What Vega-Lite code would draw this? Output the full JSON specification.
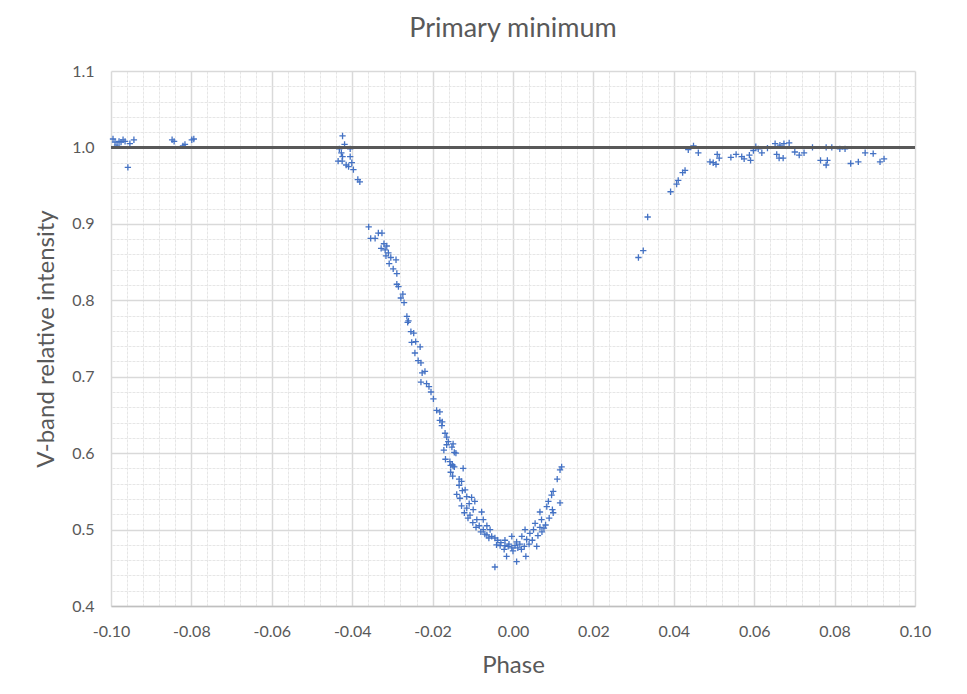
{
  "$schema": "https://vega.github.io/schema/vega-lite/v6.json",
  "width": 804,
  "height": 535,
  "autosize": "none",
  "padding": {"left": 111, "top": 71, "right": 52, "bottom": 88},
  "background": "white",
  "title": {"text": "Primary minimum", "font": "Lato", "fontSize": 27, "fontWeight": "normal", "color": "#595959", "offset": 20},
  "config": {
    "view": {"stroke": null},
    "axis": {"labelFont": "Lato", "labelFontSize": 16, "labelColor": "#595959", "titleFont": "Lato", "titleFontSize": 24, "titleFontWeight": "normal", "titleColor": "#595959", "ticks": false}
  },
  "data": {"values": [
    {"phase": -0.0995, "intensity": 1.011}, {"phase": -0.0990, "intensity": 1.007}, {"phase": -0.0985, "intensity": 1.003}, {"phase": -0.0980, "intensity": 1.008}, {"phase": -0.0975, "intensity": 1.007}, {"phase": -0.0970, "intensity": 1.010}, {"phase": -0.0965, "intensity": 1.008}, {"phase": -0.0958, "intensity": 0.974}, {"phase": -0.0953, "intensity": 1.005}, {"phase": -0.0943, "intensity": 1.010},
    {"phase": -0.0848, "intensity": 1.010}, {"phase": -0.0843, "intensity": 1.008}, {"phase": -0.0821, "intensity": 1.002}, {"phase": -0.0816, "intensity": 1.004}, {"phase": -0.0799, "intensity": 1.010}, {"phase": -0.0794, "intensity": 1.011},
    {"phase": -0.0424, "intensity": 1.015}, {"phase": -0.0419, "intensity": 1.004}, {"phase": -0.0432, "intensity": 0.998}, {"phase": -0.0405, "intensity": 0.998}, {"phase": -0.0427, "intensity": 0.993}, {"phase": -0.0424, "intensity": 0.988}, {"phase": -0.0405, "intensity": 0.988}, {"phase": -0.0435, "intensity": 0.982}, {"phase": -0.0425, "intensity": 0.982}, {"phase": -0.0401, "intensity": 0.980}, {"phase": -0.0415, "intensity": 0.977}, {"phase": -0.0409, "intensity": 0.975}, {"phase": -0.0397, "intensity": 0.971}, {"phase": -0.0386, "intensity": 0.958}, {"phase": -0.0381, "intensity": 0.955},
    {"phase": -0.0359, "intensity": 0.896}, {"phase": -0.0354, "intensity": 0.881}, {"phase": -0.0343, "intensity": 0.881}, {"phase": -0.0335, "intensity": 0.888}, {"phase": -0.0326, "intensity": 0.888}, {"phase": -0.0321, "intensity": 0.874}, {"phase": -0.0314, "intensity": 0.871}, {"phase": -0.0328, "intensity": 0.868}, {"phase": -0.0318, "intensity": 0.866}, {"phase": -0.0310, "intensity": 0.862}, {"phase": -0.0316, "intensity": 0.858}, {"phase": -0.0304, "intensity": 0.856}, {"phase": -0.0291, "intensity": 0.853}, {"phase": -0.0308, "intensity": 0.848}, {"phase": -0.0298, "intensity": 0.841}, {"phase": -0.0289, "intensity": 0.835},
    {"phase": -0.0289, "intensity": 0.821}, {"phase": -0.0285, "intensity": 0.818}, {"phase": -0.0274, "intensity": 0.808}, {"phase": -0.0279, "intensity": 0.803}, {"phase": -0.0271, "intensity": 0.797}, {"phase": -0.0264, "intensity": 0.779}, {"phase": -0.0260, "intensity": 0.773}, {"phase": -0.0262, "intensity": 0.771}, {"phase": -0.0254, "intensity": 0.759}, {"phase": -0.0247, "intensity": 0.757}, {"phase": -0.0252, "intensity": 0.745}, {"phase": -0.0242, "intensity": 0.746}, {"phase": -0.0231, "intensity": 0.739}, {"phase": -0.0244, "intensity": 0.731}, {"phase": -0.0236, "intensity": 0.721}, {"phase": -0.0229, "intensity": 0.718}, {"phase": -0.0219, "intensity": 0.707}, {"phase": -0.0226, "intensity": 0.705}, {"phase": -0.0229, "intensity": 0.693}, {"phase": -0.0215, "intensity": 0.691}, {"phase": -0.0209, "intensity": 0.687}, {"phase": -0.0204, "intensity": 0.680}, {"phase": -0.0198, "intensity": 0.671}, {"phase": -0.0190, "intensity": 0.656}, {"phase": -0.0182, "intensity": 0.654}, {"phase": -0.0182, "intensity": 0.643}, {"phase": -0.0176, "intensity": 0.641}, {"phase": -0.0177, "intensity": 0.636}, {"phase": -0.0169, "intensity": 0.626}, {"phase": -0.0165, "intensity": 0.621}, {"phase": -0.0161, "intensity": 0.615}, {"phase": -0.0165, "intensity": 0.611}, {"phase": -0.0152, "intensity": 0.608}, {"phase": -0.0149, "intensity": 0.612}, {"phase": -0.0146, "intensity": 0.601}, {"phase": -0.0142, "intensity": 0.600}, {"phase": -0.0157, "intensity": 0.589}, {"phase": -0.0151, "intensity": 0.585}, {"phase": -0.0155, "intensity": 0.584}, {"phase": -0.0146, "intensity": 0.582}, {"phase": -0.0149, "intensity": 0.583}, {"phase": -0.0124, "intensity": 0.580},
    {"phase": -0.0150, "intensity": 0.570}, {"phase": -0.0134, "intensity": 0.566}, {"phase": -0.0128, "intensity": 0.563}, {"phase": -0.0134, "intensity": 0.558}, {"phase": -0.0119, "intensity": 0.552}, {"phase": -0.0132, "intensity": 0.541}, {"phase": -0.0115, "intensity": 0.543}, {"phase": -0.0103, "intensity": 0.542}, {"phase": -0.0109, "intensity": 0.534}, {"phase": -0.0095, "intensity": 0.537}, {"phase": -0.0115, "intensity": 0.528}, {"phase": -0.0099, "intensity": 0.526}, {"phase": -0.0107, "intensity": 0.519}, {"phase": -0.0078, "intensity": 0.523}, {"phase": -0.0090, "intensity": 0.513}, {"phase": -0.0074, "intensity": 0.513}, {"phase": -0.0084, "intensity": 0.505}, {"phase": -0.0065, "intensity": 0.505}, {"phase": -0.0074, "intensity": 0.500}, {"phase": -0.0057, "intensity": 0.500}, {"phase": -0.0065, "intensity": 0.493}, {"phase": -0.0053, "intensity": 0.491}, {"phase": -0.0045, "intensity": 0.489}, {"phase": -0.0041, "intensity": 0.480}, {"phase": -0.0032, "intensity": 0.479}, {"phase": -0.0020, "intensity": 0.479}, {"phase": -0.0012, "intensity": 0.478}, {"phase": -0.0003, "intensity": 0.476}, {"phase": 0.0005, "intensity": 0.479}, {"phase": 0.0017, "intensity": 0.481}, {"phase": 0.0009, "intensity": 0.484}, {"phase": -0.0016, "intensity": 0.465}, {"phase": -0.0045, "intensity": 0.451}, {"phase": 0.0009, "intensity": 0.458}, {"phase": 0.0032, "intensity": 0.465}, {"phase": 0.0059, "intensity": 0.478}, {"phase": 0.0034, "intensity": 0.487}, {"phase": 0.0042, "intensity": 0.495}, {"phase": 0.0051, "intensity": 0.500}, {"phase": 0.0067, "intensity": 0.503}, {"phase": 0.0077, "intensity": 0.502}, {"phase": 0.0055, "intensity": 0.508}, {"phase": 0.0071, "intensity": 0.513}, {"phase": 0.0067, "intensity": 0.523}, {"phase": 0.0084, "intensity": 0.530}, {"phase": 0.0088, "intensity": 0.537}, {"phase": 0.0096, "intensity": 0.545}, {"phase": 0.0100, "intensity": 0.550}, {"phase": 0.0100, "intensity": 0.522}, {"phase": 0.0117, "intensity": 0.535}, {"phase": 0.0110, "intensity": 0.566}, {"phase": 0.0117, "intensity": 0.578}, {"phase": 0.0121, "intensity": 0.582}, {"phase": -0.0003, "intensity": 0.491}, {"phase": 0.0022, "intensity": 0.491}, {"phase": 0.0030, "intensity": 0.500}, {"phase": -0.0020, "intensity": 0.486},
    {"phase": -0.0030, "intensity": 0.483}, {"phase": -0.0022, "intensity": 0.474}, {"phase": 0.0000, "intensity": 0.472}, {"phase": 0.0012, "intensity": 0.476}, {"phase": -0.0010, "intensity": 0.481}, {"phase": 0.0021, "intensity": 0.474}, {"phase": 0.0028, "intensity": 0.478}, {"phase": -0.0038, "intensity": 0.486}, {"phase": -0.0060, "intensity": 0.489}, {"phase": -0.0070, "intensity": 0.494}, {"phase": -0.0080, "intensity": 0.497}, {"phase": -0.0092, "intensity": 0.503}, {"phase": -0.0100, "intensity": 0.509}, {"phase": -0.0112, "intensity": 0.515}, {"phase": -0.0121, "intensity": 0.522}, {"phase": -0.0128, "intensity": 0.531}, {"phase": -0.0140, "intensity": 0.546}, {"phase": -0.0126, "intensity": 0.551}, {"phase": -0.0155, "intensity": 0.575}, {"phase": -0.0168, "intensity": 0.592}, {"phase": -0.0172, "intensity": 0.604}, {"phase": 0.0040, "intensity": 0.481}, {"phase": 0.0048, "intensity": 0.486}, {"phase": 0.0062, "intensity": 0.492}, {"phase": 0.0072, "intensity": 0.497}, {"phase": 0.0081, "intensity": 0.506}, {"phase": 0.0090, "intensity": 0.515}, {"phase": 0.0098, "intensity": 0.526},
    {"phase": 0.0312, "intensity": 0.856}, {"phase": 0.0324, "intensity": 0.865}, {"phase": 0.0335, "intensity": 0.909}, {"phase": 0.0392, "intensity": 0.942}, {"phase": 0.0407, "intensity": 0.952}, {"phase": 0.0411, "intensity": 0.957}, {"phase": 0.0422, "intensity": 0.967}, {"phase": 0.0428, "intensity": 0.970}, {"phase": 0.0436, "intensity": 0.997}, {"phase": 0.0449, "intensity": 1.002}, {"phase": 0.0461, "intensity": 0.993}, {"phase": 0.0490, "intensity": 0.981}, {"phase": 0.0498, "intensity": 0.980}, {"phase": 0.0505, "intensity": 0.978}, {"phase": 0.0508, "intensity": 0.991}, {"phase": 0.0513, "intensity": 0.986}, {"phase": 0.0542, "intensity": 0.987}, {"phase": 0.0555, "intensity": 0.991}, {"phase": 0.0569, "intensity": 0.988}, {"phase": 0.0575, "intensity": 0.985}, {"phase": 0.0588, "intensity": 0.990}, {"phase": 0.0591, "intensity": 0.983}, {"phase": 0.0598, "intensity": 0.996}, {"phase": 0.0604, "intensity": 1.001}, {"phase": 0.0610, "intensity": 0.998}, {"phase": 0.0619, "intensity": 0.993}, {"phase": 0.0633, "intensity": 0.999}, {"phase": 0.0652, "intensity": 1.005}, {"phase": 0.0656, "intensity": 0.991}, {"phase": 0.0662, "intensity": 0.986}, {"phase": 0.0672, "intensity": 0.986}, {"phase": 0.0664, "intensity": 1.003}, {"phase": 0.0674, "intensity": 1.005}, {"phase": 0.0687, "intensity": 1.006}, {"phase": 0.0701, "intensity": 0.994}, {"phase": 0.0712, "intensity": 0.990}, {"phase": 0.0724, "intensity": 0.993}, {"phase": 0.0745, "intensity": 1.000}, {"phase": 0.0765, "intensity": 0.983}, {"phase": 0.0779, "intensity": 0.977}, {"phase": 0.0782, "intensity": 0.983}, {"phase": 0.0779, "intensity": 1.000}, {"phase": 0.0793, "intensity": 1.000}, {"phase": 0.0813, "intensity": 0.998}, {"phase": 0.0826, "intensity": 0.998}, {"phase": 0.0840, "intensity": 0.979}, {"phase": 0.0859, "intensity": 0.981}, {"phase": 0.0876, "intensity": 0.993}, {"phase": 0.0896, "intensity": 0.992}, {"phase": 0.0913, "intensity": 0.981}, {"phase": 0.0923, "intensity": 0.985}
  ]},
  "resolve": {"axis": {"x": "independent", "y": "independent"}},
  "layer": [
    {
      "mark": {"type": "point", "opacity": 0},
      "encoding": {
        "x": {"field": "phase", "type": "quantitative",
          "scale": {"domain": [-0.1, 0.1], "nice": false, "zero": false},
          "axis": {"orient": "top", "title": null, "labels": false, "domain": false, "ticks": false, "grid": true, "gridColor": "#e6e6e6", "gridWidth": 1, "gridDash": [3, 1],
            "values": [-0.096, -0.092, -0.088, -0.084, -0.076, -0.072, -0.068, -0.064, -0.056, -0.052, -0.048, -0.044, -0.036, -0.032, -0.028, -0.024, -0.016, -0.012, -0.008, -0.004, 0.004, 0.008, 0.012, 0.016, 0.024, 0.028, 0.032, 0.036, 0.044, 0.048, 0.052, 0.056, 0.064, 0.068, 0.072, 0.076, 0.084, 0.088, 0.092, 0.096]}
        },
        "y": {"field": "intensity", "type": "quantitative",
          "scale": {"domain": [0.4, 1.1], "nice": false, "zero": false},
          "axis": {"orient": "right", "title": null, "labels": false, "domain": false, "ticks": false, "grid": true, "gridColor": "#e6e6e6", "gridWidth": 1, "gridDash": [3, 1],
            "values": [0.42, 0.44, 0.46, 0.48, 0.52, 0.54, 0.56, 0.58, 0.62, 0.64, 0.66, 0.68, 0.72, 0.74, 0.76, 0.78, 0.82, 0.84, 0.86, 0.88, 0.92, 0.94, 0.96, 0.98, 1.02, 1.04, 1.06, 1.08]}
        }
      }
    },
    {
      "mark": {"type": "point", "shape": "M-1,0L1,0M0,-1L0,1", "filled": false, "size": 40, "stroke": "#4472C4", "strokeWidth": 1.3, "opacity": 1},
      "encoding": {
        "x": {"field": "phase", "type": "quantitative", "title": "Phase",
          "scale": {"domain": [-0.1, 0.1], "nice": false, "zero": false},
          "axis": {
            "orient": "bottom",
            "values": [-0.1, -0.08, -0.06, -0.04, -0.02, 0, 0.02, 0.04, 0.06, 0.08, 0.1],
            "format": ".2f",
            "labelExpr": "replace(datum.label, '\u2212', '-')",
            "grid": true, "gridColor": "#d9d9d9", "gridWidth": 1.5,
            "domain": true, "domainColor": "#bfbfbf", "domainWidth": 1.5,
            "labelPadding": 17, "titlePadding": 14, "labelFlush": false, "labelOverlap": false
          }
        },
        "y": {"field": "intensity", "type": "quantitative", "title": "V-band relative intensity",
          "scale": {"domain": [0.4, 1.1], "nice": false, "zero": false},
          "axis": {
            "orient": "left",
            "values": [0.4, 0.5, 0.6, 0.7, 0.8, 0.9, 1.0, 1.1],
            "format": ".1f",
            "grid": true, "gridColor": "#d9d9d9", "gridWidth": 1.5,
            "domain": false,
            "labelPadding": 17, "titlePadding": 13, "labelFlush": false, "labelOverlap": false
          }
        }
      }
    },
    {
      "mark": {"type": "rule", "color": "#595959", "strokeWidth": 2},
      "encoding": {"y": {"datum": 1.0, "type": "quantitative", "axis": null}}
    }
  ]
}
